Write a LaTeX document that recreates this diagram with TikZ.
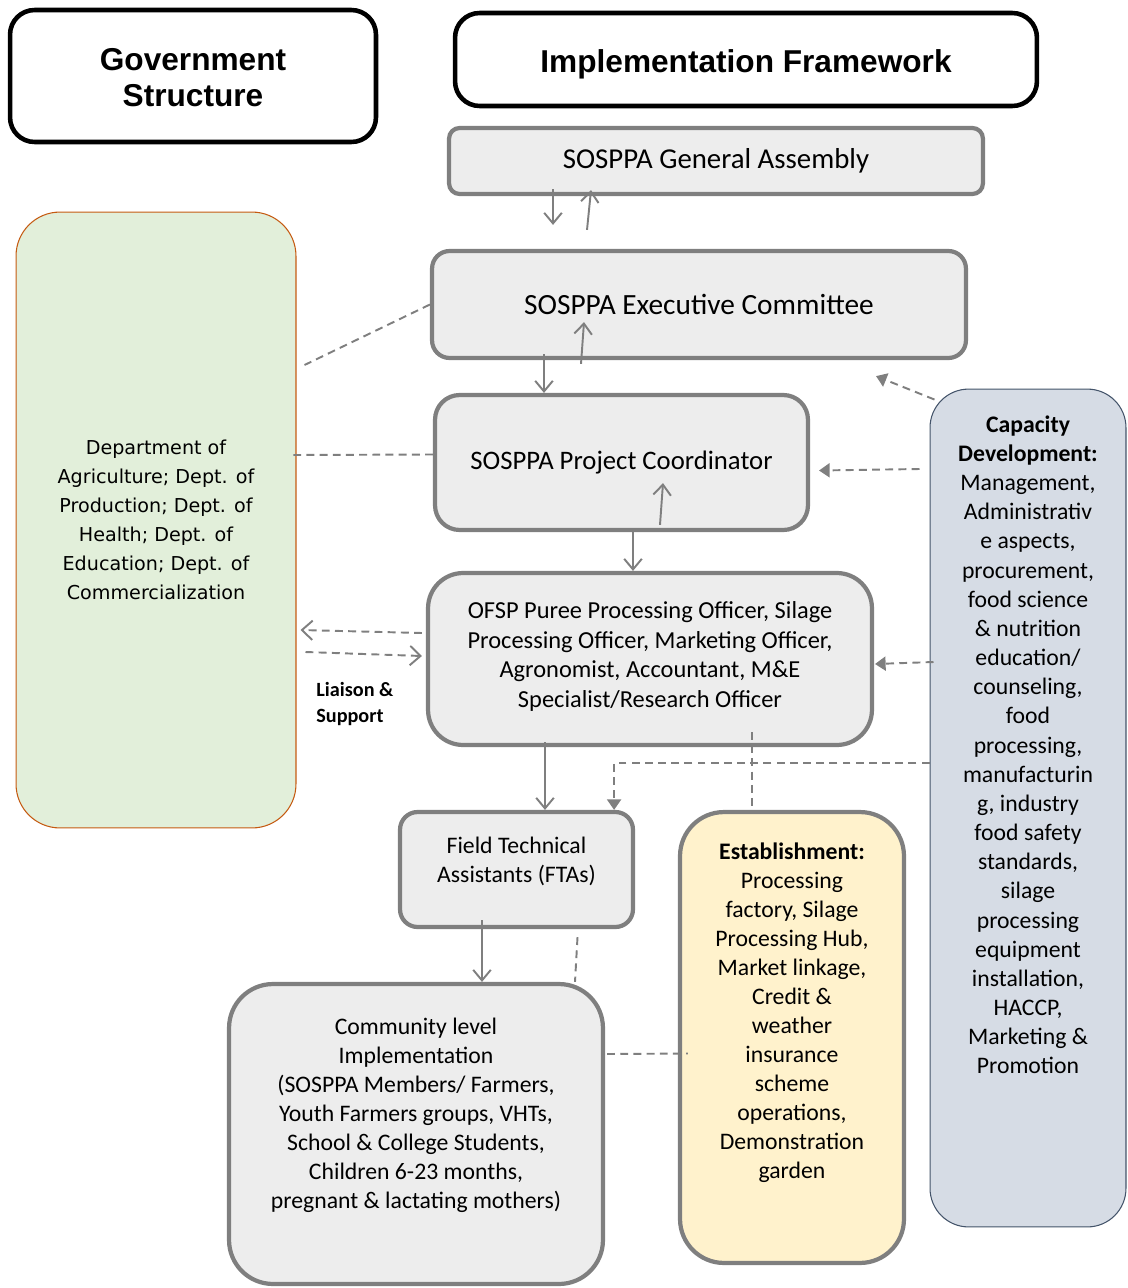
\documentclass[tikz,border=0pt]{standalone}
\usepackage{fontspec}
\setmainfont{Carlito}
\newfontfamily\arialfont{Liberation Sans}
\newfontfamily\govfont{DejaVu Sans}
\usetikzlibrary{arrows.meta,calc}
\definecolor{boxgray}{HTML}{EDEDED}
\definecolor{linegray}{HTML}{7F7F7F}
\definecolor{govgreen}{HTML}{E2EFDA}
\definecolor{govbrown}{HTML}{C55A11}
\definecolor{estyellow}{HTML}{FFF2CC}
\definecolor{capblue}{HTML}{D6DCE5}
\definecolor{capedge}{HTML}{44546A}
% text block hung from the top of a tall box
\newcommand{\toptext}[4]{\parbox[c][#1][t]{#2}{\centering\vspace*{#3}#4}}
\begin{document}
\begin{tikzpicture}[x=0.02cm, y=-0.02cm,
  title/.style={draw=black, line width=2.6pt, rounded corners=14pt, fill=white,
    font=\arialfont\bfseries\fontsize{18}{20.5}\selectfont, align=center, inner sep=0pt},
  unit/.style={draw=linegray, line width=2.4pt, fill=boxgray,
    font=\fontsize{13.5}{16.5}\selectfont, align=center, inner sep=0pt},
  arr/.style={draw=linegray, line width=1.1pt, -{Straight Barb[length=6pt,width=10pt]}},
  link/.style={draw=linegray, line width=1.1pt, dash pattern=on 4.5pt off 3pt},
  liaison/.style={link, -{Straight Barb[length=6pt,width=11pt]}},
  support/.style={link, -{Triangle[length=6pt,width=8pt]}}]

  \useasboundingbox (0,0) rectangle (1127,1288);

  % 1. Headings
  \node[title, minimum width=7.32cm, minimum height=2.64cm] (govtitle) at (193,76)
    {\raisebox{-1.1pt}[\height][\depth]{\parbox{6cm}{\centering Government\\Structure}}};
  \node[title, minimum width=11.64cm, minimum height=1.86cm] (impltitle) at (746,59.5)
    {\raisebox{-2.8pt}[\height][\depth]{Implementation Framework}};

  % 2. Government departments
  \node[draw=govbrown, line width=0.6pt, fill=govgreen, rounded corners=25pt,
    minimum width=5.6cm, minimum height=12.32cm, align=center, inner sep=0pt,
    font=\govfont\fontsize{10.9}{16.5}\selectfont] (gov) at (156,520)
    {Department of\\Agriculture; Dept. of\\Production; Dept. of\\Health; Dept. of\\Education; Dept. of\\Commercialization};

  % 3. Implementation chain
  \node[unit, rounded corners=6pt, minimum width=10.68cm, minimum height=1.32cm,
    font=\fontsize{16.4}{19}\selectfont] (ga) at (716,161) {SOSPPA General Assembly};
  \node[unit, rounded corners=10pt, minimum width=10.68cm, minimum height=2.14cm,
    font=\fontsize{16.7}{19}\selectfont] (ec) at (699,304.5) {SOSPPA Executive Committee};
  \node[unit, rounded corners=14pt, minimum width=7.46cm, minimum height=2.7cm,
    font=\fontsize{15.2}{18}\selectfont] (pc) at (621.5,462.5)
    {SOSPPA Project Coordinator};
  \node[unit, rounded corners=20pt, minimum width=8.88cm, minimum height=3.44cm,
    font=\fontsize{13.9}{16.7}\selectfont] (off) at (650,659)
    {\toptext{3.4cm}{8.8cm}{0.56cm}{OFSP Puree Processing Officer, Silage\\Processing Officer, Marketing Officer,\\Agronomist, Accountant, M\&E\\Specialist/Research Officer}};
  \node[unit, rounded corners=10pt, minimum width=4.66cm, minimum height=2.3cm] (fta) at (516.5,869.5)
    {\toptext{2.3cm}{4.6cm}{0.5cm}{Field Technical\\Assistants (FTAs)}};
  \node[unit, rounded corners=25pt, minimum width=7.48cm, minimum height=6cm] (com) at (416,1134)
    {\toptext{6cm}{7.4cm}{0.68cm}{Community level\\Implementation\\(SOSPPA Members/ Farmers,\\Youth Farmers groups, VHTs,\\School \& College Students,\\Children 6-23 months,\\pregnant \& lactating mothers)}};
  \node[unit, fill=estyellow, rounded corners=25pt, minimum width=4.48cm, minimum height=9.02cm] (est) at (792,1037.5)
    {\toptext{9cm}{4.4cm}{0.6cm}{\textbf{Establishment:}\\Processing\\factory, Silage\\Processing Hub,\\Market linkage,\\Credit \&\\weather\\insurance\\scheme\\operations,\\Demonstration\\garden}};

  % 4. Capacity development
  \node[draw=capedge, line width=0.6pt, fill=capblue, rounded corners=22pt,
    minimum width=3.92cm, minimum height=16.76cm, inner sep=0pt,
    font=\fontsize{13.5}{16.6}\selectfont] (cap) at (1028,808)
    {\toptext{16.7cm}{3.9cm}{0.5cm}{\textbf{Capacity}\\\textbf{Development:}\\Management,\\Administrativ\\e aspects,\\procurement,\\food science\\\& nutrition\\education/\\counseling,\\food\\processing,\\manufacturin\\g, industry\\food safety\\standards,\\silage\\processing\\equipment\\installation,\\HACCP,\\Marketing \&\\Promotion}};

  \node[anchor=west, align=left, inner sep=0pt, font=\bfseries\fontsize{11.5}{14.7}\selectfont] (liaison) at (316,704)
    {Liaison \&\\Support};

  % 5. Reporting lines
  \draw[arr] ($(ga.south)+(-163,-7)$) -- ($(ec.north)+(-146,-24)$);
  \draw[arr] ($(ec.north)+(-112,-19)$) -- ($(ga.south)+(-125,-6)$);
  \draw[arr] ($(ec.south)+(-155,-6)$) -- ($(pc.north)+(-77.5,0)$);
  \draw[arr] ($(pc.north)+(-40.5,-29)$) -- ($(ec.south)+(-115,-38)$);
  \draw[arr] ($(pc.south)+(11.5,0)$) -- ($(off.north)+(-17,0)$);
  \draw[arr] ($(off.north)+(10,-46)$) -- ($(pc.south)+(41.5,-49)$);
  \draw[arr] ($(off.south)+(-105,-5)$) -- ($(fta.north)+(28.5,0)$);
  \draw[arr] ($(fta.south)+(-34.5,-9)$) -- ($(com.north)+(66,0)$);

  % 6. Links to government
  \draw[link] (ec.west) -- ($(gov.east)+(8,-155)$);
  \draw[link] ($(pc.west)+(0,-8)$) -- ($(gov.east)+(-5,-65)$);
  \draw[liaison] ($(off.west)+(-4,-26)$) -- ($(gov.east)+(4,110)$);
  \draw[liaison] ($(gov.east)+(9,132)$) -- ($(off.west)+(-4,-3)$);

  % 7. Capacity development support
  \draw[support] ($(cap.north west)+(5,11)$) -- ($(ec.south)+(177,16)$);
  \draw[support] ($(cap.west)+(-10,-339)$) -- ($(pc.east)+(9,8)$);
  \draw[support] ($(cap.west)+(4,-146)$) -- ($(off.east)+(1,5)$);
  \draw[support] ($(cap.west)+(0,-45)$) -| ($(fta.north east)+(-21,0)$);

  % 8. Establishment links
  \draw[link] ($(off.south)+(102,-15)$) -- ($(est.north)+(-40,0)$);
  \draw[link] ($(fta.south)+(61,8)$) -- ($(com.north)+(159,0)$);
  \draw[link] ($(com.east)+(2,-80)$) -- ($(est.west)+(10,16)$);

\end{tikzpicture}
\end{document}
